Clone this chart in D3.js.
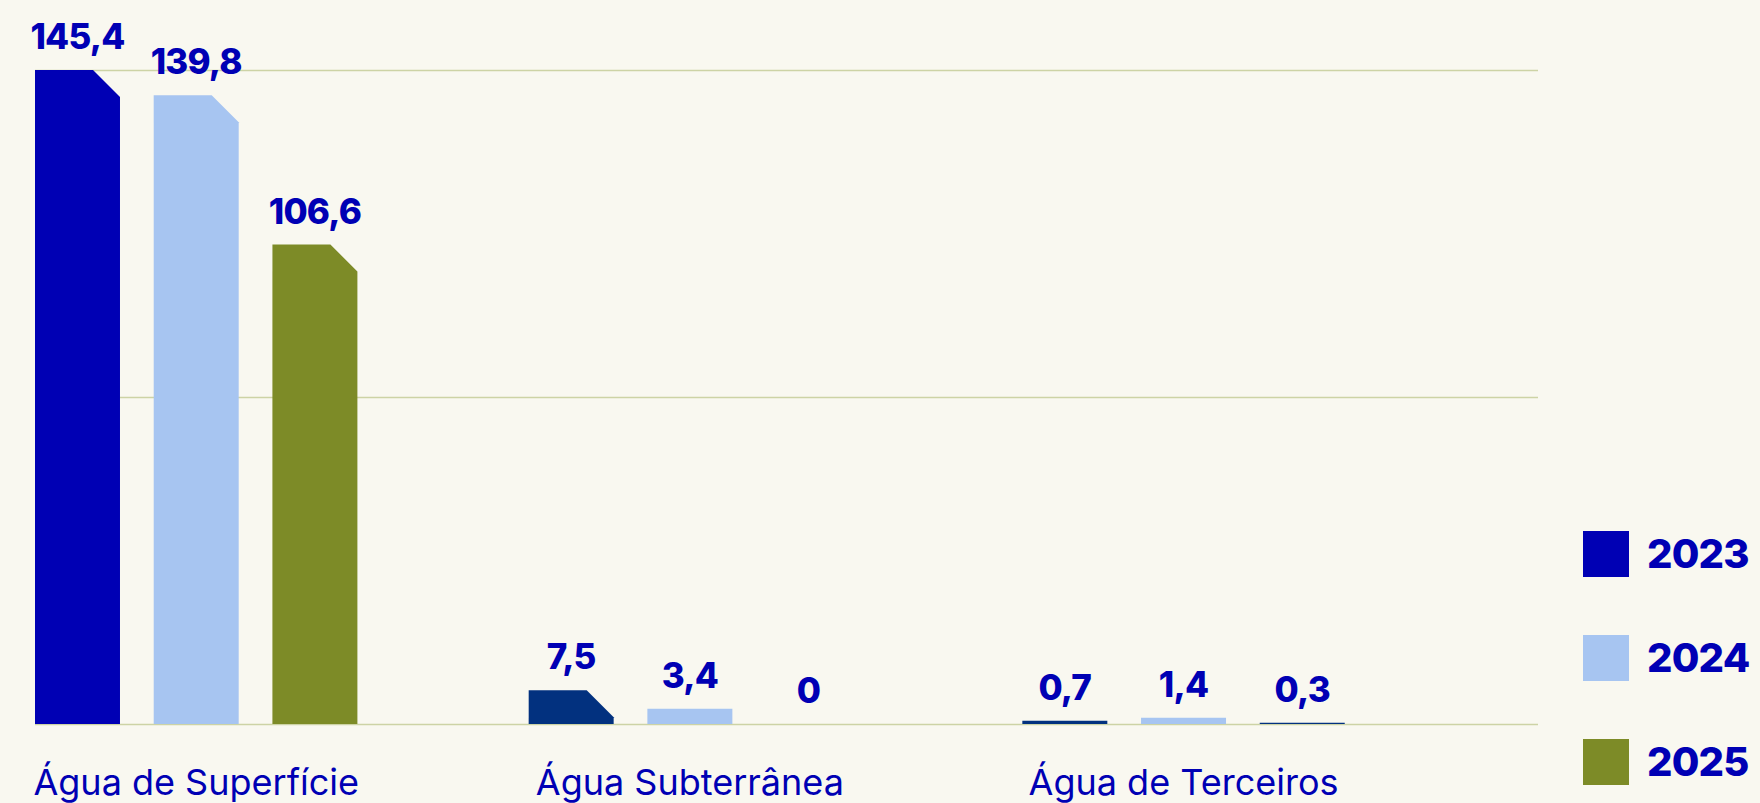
<!DOCTYPE html>
<html>
<head>
<meta charset="utf-8">
<script src="https://cdn.jsdelivr.net/npm/d3@7"></script>
<style>
  html, body { margin: 0; padding: 0; background: #f9f8f0; }
  svg { display: block; }
  .value { font-family: Inter, "DejaVu Sans", sans-serif; font-weight: 800; fill: #0000b4; }
  .cat { font-family: Inter, "DejaVu Sans", sans-serif; font-weight: 400; fill: #0000b4; }
  .legend text { font-family: Inter, "DejaVu Sans", sans-serif; font-weight: 800; fill: #0000b4; }
</style>
</head>
<body>
<div id="chart"></div>
<script>
const categories = ["Água de Superfície", "Água Subterrânea", "Água de Terceiros"];
const years = ["2023", "2024", "2025"];
const values2023 = [145.4, 7.5, 0.7];
const values2024 = [139.8, 3.4, 1.4];
const values2025 = [106.6, 0, 0.3];
const gridValues = [0, 72.7, 145.4];

const seriesValues = { "2023": values2023, "2024": values2024, "2025": values2025 };

const width = 1760, height = 803;

const yearColor = d3.scaleOrdinal()
  .domain(years)
  .range(["#0000b4", "#a7c5f1", "#7d8b27"]);

// a few bars in the original use a darker navy instead of the series colour
const navy = "#02317f";
const overrides = { "Água Subterrânea|2023": navy, "Água de Terceiros|2023": navy, "Água de Terceiros|2025": navy };

const svg = d3.select("#chart")
  .append("svg")
  .attr("width", width)
  .attr("height", height);

const x0 = d3.scaleBand()
  .domain(categories)
  .range([35, 1516])
  .padding(0);

const x1 = d3.scaleBand()
  .domain(years)
  .range([0, 322.4])
  .paddingInner(0.284)
  .paddingOuter(0);

const y = d3.scaleLinear()
  .domain([0, 145.4])
  .range([724, 70]);

// gridlines
svg.append("g")
  .attr("transform", "translate(35,0)")
  .call(d3.axisRight(y).tickValues(gridValues).tickSize(1503).tickFormat(""))
  .call(g => g.select(".domain").remove())
  .call(g => g.selectAll("line").attr("stroke", "#cdd3a5").attr("stroke-width", 1.5));

const locale = d3.formatLocale({ decimal: ",", thousands: ".", grouping: [3], currency: ["", ""] });
const fmt = v => v === 0 ? "0" : locale.format(".1f")(v);

const rows = [];
categories.forEach((c, i) => {
  years.forEach(yr => rows.push({ cat: c, year: yr, value: seriesValues[yr][i] }));
});

const chamfer = 27;
function barPath(d) {
  const bx = x0(d.cat) + x1(d.year);
  const w = x1.bandwidth();
  const top = y(d.value), base = y(0);
  const c = base - top > 30 ? chamfer : 0;
  return `M${bx},${base}V${top}H${bx + w - c}L${bx + w},${top + c}V${base}Z`;
}

svg.append("g")
  .selectAll("path")
  .data(rows.filter(d => d.value > 0))
  .join("path")
  .attr("d", barPath)
  .attr("fill", d => overrides[d.cat + "|" + d.year] || yearColor(d.year));

svg.append("g")
  .selectAll("text")
  .data(rows)
  .join("text")
  .attr("class", "value")
  .attr("x", d => x0(d.cat) + x1(d.year) + x1.bandwidth() / 2)
  .attr("y", d => y(d.value) - 21)
  .attr("text-anchor", "middle")
  .attr("font-size", 35)
  .attr("letter-spacing", -0.8)
  .text(d => fmt(d.value));

svg.append("g")
  .selectAll("text")
  .data(categories)
  .join("text")
  .attr("class", "cat")
  .attr("x", d => x0(d) + 322.4 / 2)
  .attr("y", 795)
  .attr("text-anchor", "middle")
  .attr("font-size", 36)
  .text(d => d);

const legend = svg.append("g")
  .attr("class", "legend")
  .selectAll("g")
  .data(years)
  .join("g")
  .attr("transform", (d, i) => `translate(1583,${531 + i * 104})`);

legend.append("rect")
  .attr("width", 46)
  .attr("height", 46)
  .attr("fill", d => yearColor(d));

legend.append("text")
  .attr("x", 64)
  .attr("y", 37)
  .attr("font-size", 40)
  .attr("letter-spacing", -0.8)
  .text(d => d);
</script>
</body>
</html>
